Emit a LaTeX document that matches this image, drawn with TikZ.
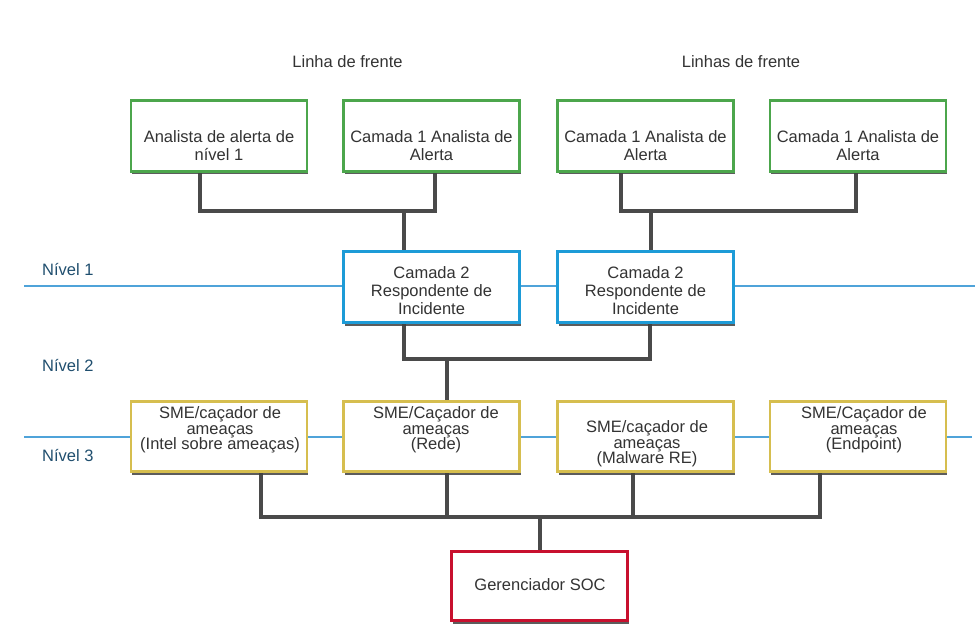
\documentclass[tikz,border=0pt]{standalone}
\usepackage{fontspec}
\setmainfont{Liberation Sans}
\usetikzlibrary{shadows,backgrounds}
\definecolor{gborder}{HTML}{4CA64C}
\definecolor{bborder}{HTML}{1D9BD7}
\definecolor{yborder}{HTML}{D6BE4F}
\definecolor{rborder}{HTML}{C8102E}
\definecolor{connc}{HTML}{4A4A4A}
\definecolor{lvline}{HTML}{4FA3D9}
\definecolor{lvtext}{HTML}{1F4E6E}
\definecolor{txtc}{HTML}{333333}
\begin{document}
\begin{tikzpicture}[x=1pt,y=-1pt,
  box/.style={draw, line width=2.5pt, fill=white, minimum width=176pt, inner sep=0pt,
    drop shadow={shadow xshift=1pt, shadow yshift=-3pt, opacity=0.85, fill=black!75}},
  gbox/.style={box, draw=gborder, minimum height=71pt},
  bbox/.style={box, draw=bborder, minimum height=71pt},
  ybox/.style={box, draw=yborder, minimum height=70pt},
  rbox/.style={box, draw=rborder, minimum height=69pt},
  txt/.style={align=center, text=txtc, font=\fontsize{16.5}{18}\selectfont, inner sep=0pt},
  ytxt/.style={align=center, text=txtc, font=\fontsize{16.5}{15.5}\selectfont, inner sep=0pt},
  lvl/.style={anchor=west, text=lvtext, font=\fontsize{16.5}{18}\selectfont, inner sep=0pt},
  head/.style={text=txtc, font=\fontsize{16.5}{18}\selectfont, inner sep=0pt},
  conn/.style={draw=connc, line width=4pt, line join=miter},
  lvlline/.style={draw=lvline, line width=1.3pt}]
\useasboundingbox (0,0) rectangle (975,631);

% headings and levels
\node[head] (h1) at (347.5,62) {Linha de frente};
\node[head] (h2) at (741,62) {Linhas de frente};
\node[lvl] (n1) at (42,270) {Nível 1};
\node[lvl] (n2) at (42,366) {Nível 2};
\node[lvl] (n3) at (42,456) {Nível 3};

% boxes: top row
\node[gbox] (g1) at (219,136) {};
\node[gbox] (g2) at (431.5,136) {};
\node[gbox] (g3) at (645.5,136) {};
\node[gbox] (g4) at (858,136) {};
\node[txt] (tg1) at (219,146) {Analista de alerta de\\nível 1};
\node[txt] (tg2) at (431.5,146) {Camada 1 Analista de\\Alerta};
\node[txt] (tg3) at (645.5,146) {Camada 1 Analista de\\Alerta};
\node[txt] (tg4) at (858,146) {Camada 1 Analista de\\Alerta};

% tier 2
\node[bbox] (b1) at (431.5,287) {};
\node[bbox] (b2) at (645.5,287) {};
\node[txt] (tb1) at (431.5,290.5) {Camada 2\\Respondente de\\Incidente};
\node[txt] (tb2) at (645.5,290.5) {Camada 2\\Respondente de\\Incidente};

% tier 3
\node[ybox] (y1) at (219,436.5) {};
\node[ybox] (y2) at (431.5,436.5) {};
\node[ybox] (y3) at (645.5,436.5) {};
\node[ybox] (y4) at (858,436.5) {};
\node[ytxt] (ty1) at (220,430) {SME/caçador de\\ameaças\\(Intel sobre ameaças)};
\node[ytxt] (ty2) at (436,430) {SME/Caçador de\\ameaças\\(Rede)};
\node[ytxt] (ty3) at (647,444) {SME/caçador de\\ameaças\\(Malware RE)};
\node[ytxt] (ty4) at (864,430) {SME/Caçador de\\ameaças\\(Endpoint)};

% manager
\node[rbox] (r1) at (539.5,586) {};
\node[txt] (tr1) at (540,585) {Gerenciador SOC};

% junction coordinates
\coordinate (j1) at (404,211);
\coordinate (j2) at (651,211);
\coordinate (j3) at (447,359);
\coordinate (j4) at (540,517);
\coordinate (l1a) at (24,286); \coordinate (l1b) at (975,286);
\coordinate (l3a) at (24,437); \coordinate (l3b) at (972,437);

\begin{scope}[on background layer]
\draw[lvlline] (l1a) -- (l1b);
\draw[lvlline] (l3a) -- (l3b);
\draw[conn] ([xshift=-19pt]g1.south) |- (j1) -| ([xshift=3pt]g2.south);
\draw[conn] (j1) -- (j1 |- b1.north);
\draw[conn] ([xshift=-24.5pt]g3.south) |- (j2) -| ([xshift=-2pt]g4.south);
\draw[conn] (j2) -- (j2 |- b2.north);
\draw[conn] ([xshift=-27.5pt]b1.south) |- (j3) -| ([xshift=4.5pt]b2.south);
\draw[conn] (j3) -- (j3 |- y2.north);
\draw[conn] ([xshift=42pt]y1.south) |- (j4) -| ([xshift=-38pt]y4.south);
\draw[conn] ([xshift=15.5pt]y2.south) -- ([xshift=15.5pt]y2.south |- j4);
\draw[conn] ([xshift=-12.5pt]y3.south) -- ([xshift=-12.5pt]y3.south |- j4);
\draw[conn] (j4) -- (j4 |- r1.north);
\end{scope}
\end{tikzpicture}
\end{document}
